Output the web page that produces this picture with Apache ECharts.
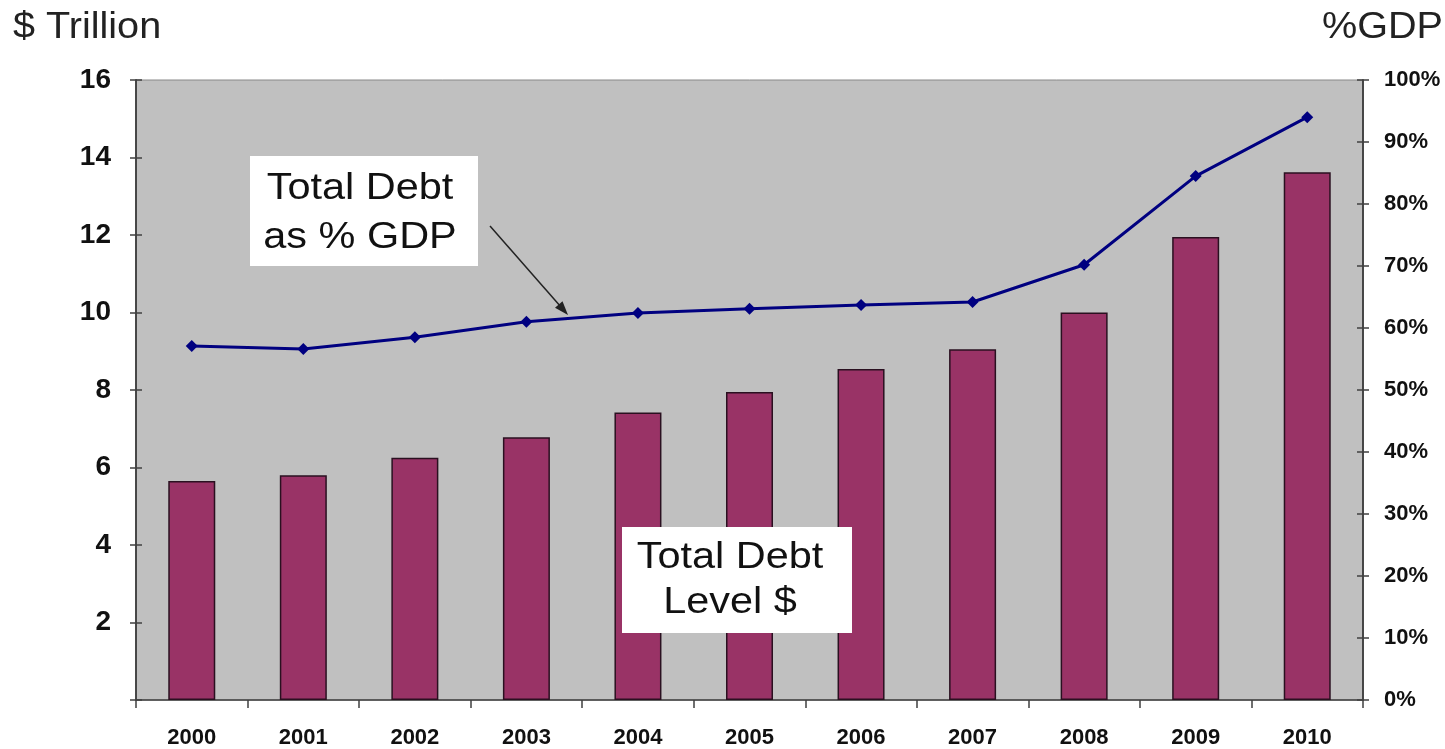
<!DOCTYPE html>
<html>
<head>
<meta charset="utf-8">
<script src="https://cdn.jsdelivr.net/npm/echarts@6/dist/echarts.min.js"></script>
<style>
html,body{margin:0;padding:0;background:#fff;}
#chart{width:1445px;height:749px;}
</style>
</head>
<body>
<div id="chart"></div>
<script>
const years = ['2000','2001','2002','2003','2004','2005','2006','2007','2008','2009','2010'];
const debtTrillion = [5.65, 5.8, 6.25, 6.78, 7.42, 7.95, 8.54, 9.05, 10.0, 11.95, 13.62];
const debtPctGdp = [57.1, 56.6, 58.5, 61.0, 62.4, 63.1, 63.7, 64.2, 70.2, 84.5, 94.0];
const leftTicks = [0, 16, 2];
const rightTicks = [0, 100, 10];

const chart = echarts.init(document.getElementById('chart'));
const FONT = '"Liberation Sans", Arial, sans-serif';

function yAx(pos, range, showLabels, tickInside, fmt, size) {
  return {
    type: 'value', position: pos, min: range[0], max: range[1], interval: range[2],
    axisLine: {show: true, lineStyle: {color: '#404040', width: 1.5}},
    axisTick: {show: true, inside: tickInside, length: 6, lineStyle: {color: '#404040', width: 1.5}},
    splitLine: {show: false},
    axisLabel: {show: showLabels, formatter: fmt, fontFamily: FONT, fontWeight: 'bold', fontSize: size, color: '#111', margin: pos === 'left' ? 25 : 21}
  };
}

const option = {
  animation: false,
  backgroundColor: '#fff',
  grid: {left: 136, right: 82, top: 80, bottom: 49, show: true, backgroundColor: '#c0c0c0', borderColor: '#888', borderWidth: 1},
  xAxis: {
    type: 'category', data: years, boundaryGap: true,
    axisLine: {show: true, lineStyle: {color: '#404040', width: 1.5}},
    axisTick: {show: true, length: 8, lineStyle: {color: '#404040', width: 1.5}},
    axisLabel: {fontFamily: FONT, fontWeight: 'bold', fontSize: 22, color: '#111', margin: 27}
  },
  yAxis: [
    yAx('left', leftTicks, true, false, v => v === 0 ? '' : String(v), 28),
    yAx('right', rightTicks, true, false, v => v + '%', 22),
    yAx('left', leftTicks, false, true, null, 20),
    yAx('right', rightTicks, false, true, null, 20)
  ],
  graphic: [
    {type: 'text', x: 13, y: 28, scaleX: 1.1, style: {text: '$ Trillion', font: '36px ' + FONT, fill: '#222', align: 'left', verticalAlign: 'middle'}},
    {type: 'text', x: 1443, y: 28, scaleX: 1.1, style: {text: '%GDP', font: '36px ' + FONT, fill: '#222', align: 'right', verticalAlign: 'middle'}},
    {type: 'rect', shape: {x: 250, y: 156, width: 228, height: 110}, style: {fill: '#fff'}, z: 100},
    {type: 'text', x: 360, y: 213, scaleX: 1.12, z: 101, style: {text: 'Total Debt\nas % GDP', font: '37px ' + FONT, fill: '#111', align: 'center', verticalAlign: 'middle', lineHeight: 49}},
    {type: 'rect', shape: {x: 622, y: 527, width: 230, height: 106}, style: {fill: '#fff'}, z: 100},
    {type: 'text', x: 730, y: 580, scaleX: 1.12, z: 101, style: {text: 'Total Debt\nLevel $', font: '37px ' + FONT, fill: '#111', align: 'center', verticalAlign: 'middle', lineHeight: 45}},
    {type: 'line', shape: {x1: 490, y1: 226, x2: 561, y2: 307}, style: {stroke: '#222', lineWidth: 1.5}, z: 100},
    {type: 'polygon', shape: {points: [[568, 315], [555.0, 307.8], [562.5, 301.2]]}, style: {fill: '#222'}, z: 100}
  ],
  series: [
    {
      type: 'bar', data: debtTrillion, yAxisIndex: 0, barWidth: 47,
      itemStyle: {color: '#993366', borderColor: '#2a1020', borderWidth: 1.5}
    },
    {
      type: 'line', data: debtPctGdp, yAxisIndex: 1,
      symbol: 'diamond', symbolSize: 12,
      lineStyle: {color: '#000080', width: 3},
      itemStyle: {color: '#000080'}
    }
  ]
};
chart.setOption(option);
</script>
</body>
</html>
